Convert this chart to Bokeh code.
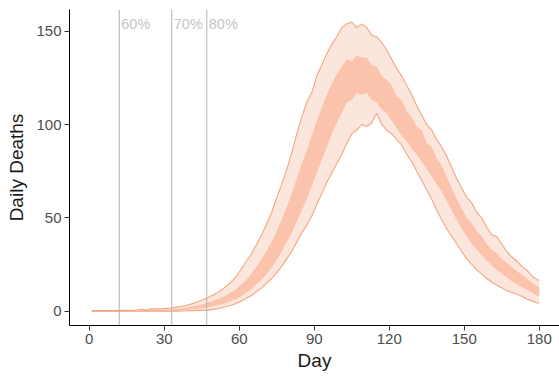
from bokeh.plotting import figure
from bokeh.models import Span, Label, Range1d, FixedTicker
from bokeh.embed import file_html
from bokeh.resources import INLINE

# Days (every second day, plus the last day)
days = list(range(1, 180, 2)) + [180]

outer_upper = [
    0.3, 0.3, 0.3, 0.3, 0.3, 0.3, 0.4, 0.4, 0.5, 0.6,
    1.0, 0.6, 1.2, 1.2, 1.3, 1.5, 1.7, 2.2, 2.6, 3.2,
    3.9, 4.8, 5.8, 7.0, 8.2, 9.8, 11.5, 13.5, 16, 19,
    23, 27, 31, 36, 41, 47, 53, 61, 68, 76,
    85, 95, 104, 112, 117, 126, 132, 138, 143, 147,
    152, 154, 155, 152, 154, 152, 148, 147, 144, 140,
    135, 130, 126, 121, 116, 110, 105, 100, 97, 92,
    88, 83, 77, 71, 66, 61, 58, 53, 50, 45,
    41, 40, 36, 32, 29, 27, 24, 22, 19, 17,
    16.5,
]
inner_upper = [
    0.1, 0.1, 0.1, 0.1, 0.1, 0.1, 0.2, 0.2, 0.2, 0.2,
    0.3, 0.3, 0.5, 0.6, 0.7, 0.8, 1.0, 1.3, 1.6, 2.0,
    2.5, 3.0, 3.6, 4.3, 5.2, 6.2, 7.3, 8.6, 10.2, 12,
    14.5, 17, 20.5, 24, 28, 32.5, 37.5, 43, 49, 56,
    63, 71, 79, 86, 94, 102, 109, 116, 122, 127,
    131, 135, 134, 137, 136, 136, 132, 131, 126, 124,
    121, 115, 113, 107, 104, 99, 97, 90, 88, 82,
    78, 72, 66, 60, 55, 50, 47, 43, 40, 36,
    33, 31, 28, 26, 23.5, 21.5, 19.5, 17.5, 15.5, 13.5,
    13,
]
inner_lower = [
    0, 0, 0, 0, 0, 0, 0, 0, 0, 0,
    0.1, 0.1, 0.1, 0.1, 0.1, 0.2, 0.3, 0.4, 0.6, 0.8,
    1.0, 1.3, 1.6, 2.0, 2.5, 3.0, 3.7, 4.5, 5.5, 6.7,
    8.2, 10, 12, 14.5, 17, 20, 23.5, 27.5, 32, 37,
    42, 48, 54, 60, 67, 74, 81, 88, 95, 101,
    106, 112, 113, 117, 116, 117, 113, 112, 108, 106,
    102, 98, 94, 91, 87, 84, 80, 76, 72, 68,
    64, 59, 54, 49, 44, 40, 36, 33, 30, 27,
    24.5, 22, 20, 18, 16, 14.5, 13, 11.5, 10, 8.5,
    8,
]
outer_lower = [
    0, 0, 0, 0, 0, 0, 0, 0, 0, 0,
    0, 0, 0, 0, 0, 0, 0, 0, 0.1, 0.2,
    0.3, 0.4, 0.5, 0.4, 0.8, 1.2, 1.8, 2.5, 3.3, 4.3,
    5.5, 7, 8.5, 10.5, 12.5, 15, 17.5, 20.5, 24, 28,
    32, 37, 42, 46, 51, 57, 63, 69, 74, 79,
    84, 90, 95, 97, 100, 99, 101, 106, 100, 97,
    95, 92, 89, 84, 80, 75, 70, 65, 60, 54,
    49, 44, 40, 36, 32, 28, 25, 22, 20, 17.5,
    15.5, 14, 12.5, 11, 10, 9, 8, 6.5, 5.5, 4.5,
    4.3,
]

threshold_days = [12, 33, 47]
threshold_labels = ["60%", "70%", "80%"]
x_ticks = [0, 30, 60, 90, 120, 150, 180]
y_ticks = [0, 50, 100, 150]

FONT = "Liberation Sans"

p = figure(width=559, height=376, output_backend="svg", toolbar_location=None,
           x_range=Range1d(-7.9, 188.1), y_range=Range1d(-7.7, 161.7),
           min_border_left=69, min_border_right=0, min_border_top=9,
           min_border_bottom=51)
p.outline_line_color = None
p.grid.visible = False
p.background_fill_color = "white"
p.border_fill_color = "white"

p.varea(x=days, y1=outer_lower, y2=outer_upper, fill_color="#fbe6dd")
p.varea(x=days, y1=inner_lower, y2=inner_upper, fill_color="#fbc3ab")
p.line(days, outer_upper, line_color="#f4a582", line_width=1.1)
p.line(days, outer_lower, line_color="#f4a582", line_width=1.1)

for d, lab in zip(threshold_days, threshold_labels):
    p.add_layout(Span(location=d, dimension="height", line_color="#b3b3b3",
                      line_width=1))
    p.add_layout(Label(x=d, y=154, text=lab, x_offset=2, text_baseline="middle",
                       text_color="#c4c4c4", text_font_size="14.5px",
                       text_font=FONT))

p.xaxis.ticker = FixedTicker(ticks=x_ticks)
p.yaxis.ticker = FixedTicker(ticks=y_ticks)
p.xaxis.axis_label = "Day"
p.yaxis.axis_label = "Daily Deaths"
for ax in (p.xaxis, p.yaxis):
    ax.major_label_text_font = FONT
    ax.major_label_text_font_size = "15px"
    ax.major_label_text_color = "#4d4d4d"
    ax.axis_label_text_font = FONT
    ax.axis_label_text_font_size = "19px"
    ax.axis_label_text_font_style = "normal"
    ax.axis_label_text_color = "#1a1a1a"
    ax.minor_tick_line_color = None
    ax.major_tick_in = 0
    ax.major_tick_out = 5
    ax.major_tick_line_color = "#333333"
    ax.axis_line_color = "black"
    ax.axis_line_width = 1
    ax.major_label_standoff = 3
p.xaxis.axis_label_standoff = 3
p.yaxis.axis_label_standoff = 6

open("out.html", "w").write(file_html(p, INLINE))
